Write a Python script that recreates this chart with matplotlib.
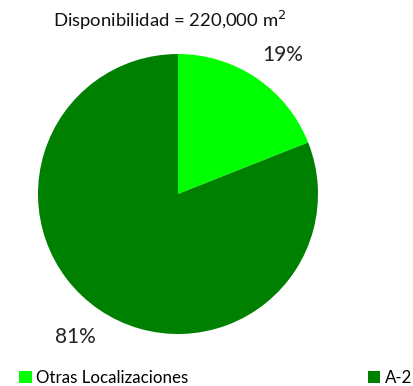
import matplotlib
matplotlib.use("Agg")
import matplotlib.pyplot as plt

labels = ["Otras Localizaciones", "A-2"]
shares = [19, 81]
colors = ["#00ff00", "#008000"]
pct_labels = ["19%", "81%"]
title = "Disponibilidad = 220,000 m$^2$"

plt.rcParams["font.family"] = ["Lato", "DejaVu Sans"]

W, H = 414, 386
fig = plt.figure(figsize=(W / 100, H / 100), dpi=100)
fig.patch.set_facecolor("white")

# pie centred at (178, 194) px with radius 140 px
cx, cy, r = 178, 194, 140
ax = fig.add_axes([(cx - r) / W, (H - cy - r) / H, 2 * r / W, 2 * r / H])
wedges, _ = ax.pie(shares, colors=colors, startangle=90, counterclock=False,
                   radius=1.0, wedgeprops=dict(linewidth=0))
ax.set_xlim(-1, 1)
ax.set_ylim(-1, 1)
ax.set_aspect("equal")
ax.axis("off")

fig.text(170 / W, 1 - 20 / H, title, ha="center", va="center",
         fontsize=13.3, color="#111111")
fig.text(283 / W, 1 - 55 / H, pct_labels[0], ha="center", va="center",
         fontsize=15, color="#222222")
fig.text(75 / W, 1 - 337 / H, pct_labels[1], ha="center", va="center",
         fontsize=15, color="#222222")

leg_kw = dict(frameon=False, fontsize=12.2, handlelength=0.75, handleheight=0.75,
              handletextpad=0.25, borderaxespad=0, borderpad=0)
fig.legend([wedges[0]], [labels[0]], loc="center left",
           bbox_to_anchor=(19 / W, 1 - 378 / H), **leg_kw)
fig.legend([wedges[1]], [labels[1]], loc="center right",
           bbox_to_anchor=(412 / W, 1 - 378 / H), **leg_kw)

fig.savefig("out.png", dpi=100, facecolor="white")
